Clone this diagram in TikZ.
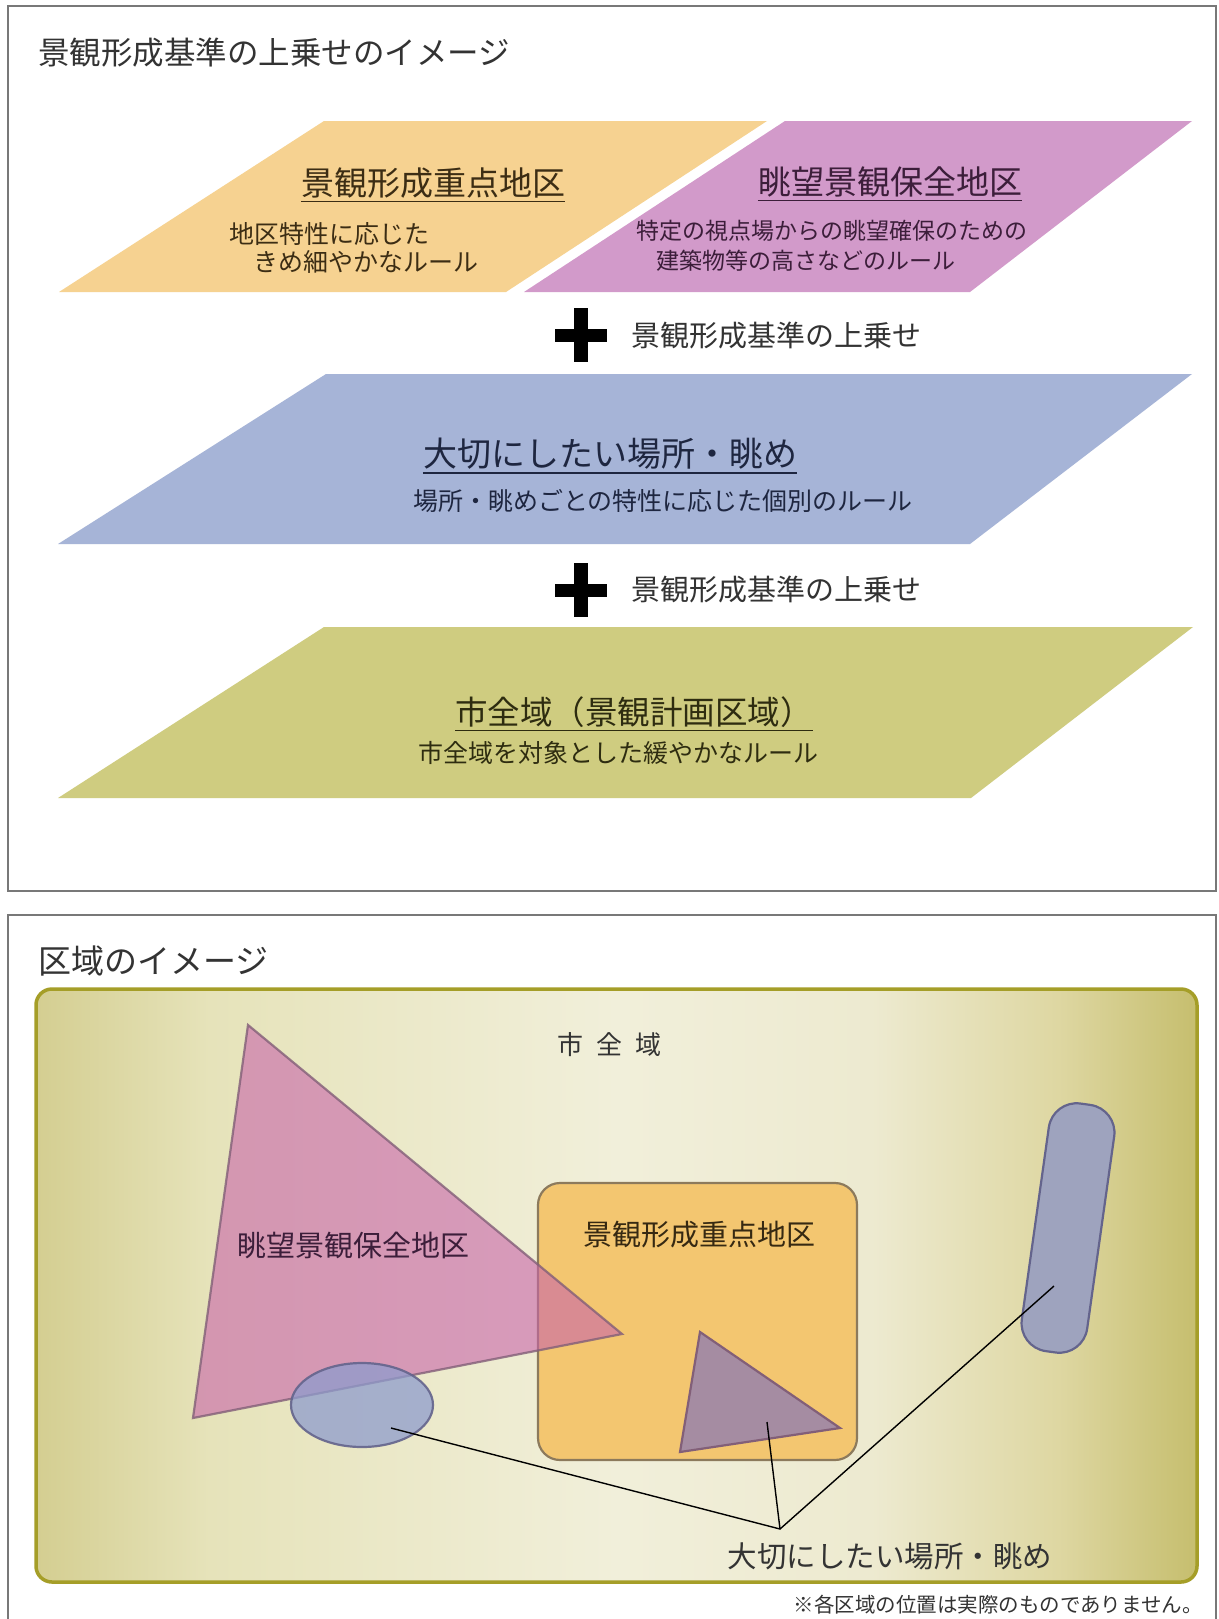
\documentclass[tikz,border=0pt]{standalone}
\usepackage{fontspec}
\setmainfont{Noto Sans CJK JP}
\newcommand\jfs[1]{\fontsize{#1pt}{#1pt}\selectfont}
\definecolor{framegray}{RGB}{120,120,120}
\definecolor{porange}{RGB}{246,210,145}
\definecolor{ppink}{RGB}{210,154,202}
\definecolor{pblue}{RGB}{166,180,215}
\definecolor{polive}{RGB}{207,204,128}
\definecolor{torange}{RGB}{60,45,20}
\definecolor{tpink}{RGB}{60,30,58}
\definecolor{tblue}{RGB}{30,38,64}
\definecolor{tolive}{RGB}{46,44,16}
\definecolor{tgray}{RGB}{51,51,51}
\definecolor{bgA}{RGB}{212,206,145}
\definecolor{bgB}{RGB}{230,227,186}
\definecolor{bgC}{RGB}{241,239,218}
\definecolor{bgD}{RGB}{237,234,208}
\definecolor{bgF}{RGB}{222,215,162}
\definecolor{bgE}{RGB}{198,190,110}
\definecolor{bgborder}{RGB}{165,158,40}
\definecolor{zorange}{RGB}{243,198,112}
\definecolor{zoborder}{RGB}{140,122,92}
\definecolor{zpink}{RGB}{200,100,170}
\definecolor{zpborder}{RGB}{130,95,120}
\definecolor{zmauve}{RGB}{165,140,162}
\definecolor{zblue}{RGB}{142,156,205}
\definecolor{zbborder}{RGB}{100,100,140}
\definecolor{zcaps}{RGB}{158,163,190}
\pgfdeclarehorizontalshading{bgshade}{100bp}{color(0bp)=(bgA); color(25bp)=(bgA); color(32.5bp)=(bgB); color(50bp)=(bgC); color(61bp)=(bgD); color(69bp)=(bgF); color(75bp)=(bgE); color(100bp)=(bgE)}
\begin{document}
\begin{tikzpicture}[x=1pt,y=-1pt,
  frame/.style={draw=framegray, line width=2pt},
  txt/.style={inner sep=0pt, anchor=center},
  uline/.style={line width=1.6pt},
  lead/.style={draw=black, line width=1.4pt},
  zoneline/.style={line width=2.2pt}]
\useasboundingbox (0,0) rectangle (1218,1619);
\fill[white] (0,0) rectangle (1218,1619);
% ---------- top panel ----------
\draw[frame] (8,6) rectangle (1216,891);
\node[txt, anchor=west, text=tgray, font=\jfs{31.5}] (title1) at (38,53) {景観形成基準の上乗せのイメージ};
% layers
\fill[porange] (324,121) -- (767,121) -- (506,292) -- (59,292) -- cycle;
\fill[ppink] (785,121) -- (1192,121) -- (970,292) -- (524,292) -- cycle;
\fill[pblue] (326,374) -- (1192,374) -- (970,544) -- (58,544) -- cycle;
\fill[polive] (324,627) -- (1193,627) -- (971,798) -- (58,798) -- cycle;
% orange texts
\node[txt, text=torange, font=\jfs{33}] (hO) at (433,183) {景観形成重点地区};
\draw[uline, torange] ([yshift=-3pt]hO.south west) -- ([yshift=-3pt]hO.south east);
\node[txt, anchor=west, text=torange, font=\jfs{25}] (sO1) at (229,234) {地区特性に応じた};
\node[txt, anchor=west, text=torange, font=\jfs{25}] (sO2) at (253,262) {きめ細やかなルール};
% pink texts
\node[txt, text=tpink, font=\jfs{33}] (hP) at (890,182) {眺望景観保全地区};
\draw[uline, tpink] ([yshift=-3pt]hP.south west) -- ([yshift=-3pt]hP.south east);
\node[txt, text=tpink, font=\jfs{23}] (sP1) at (832,231) {特定の視点場からの眺望確保のための};
\node[txt, text=tpink, font=\jfs{23}] (sP2) at (806,261) {建築物等の高さなどのルール};
% plus 1
\fill[black] (555,328.5) rectangle (607,341.5);
\fill[black] (574,308) rectangle (588,362);
\node[txt, anchor=west, text=tgray, font=\jfs{29}] (plus1) at (631,336) {景観形成基準の上乗せ};
% blue texts
\node[txt, text=tblue, font=\jfs{34}] (hB) at (610,454) {大切にしたい場所・眺め};
\draw[uline, tblue] ([yshift=-3pt]hB.south west) -- ([yshift=-3pt]hB.south east);
\node[txt, text=tblue, font=\jfs{25}] (sB) at (663,501) {場所・眺めごとの特性に応じた個別のルール};
% plus 2
\fill[black] (555,583.5) rectangle (607,596.5);
\fill[black] (574,563) rectangle (588,617);
\node[txt, anchor=west, text=tgray, font=\jfs{29}] (plus2) at (631,590) {景観形成基準の上乗せ};
% olive texts
\node[txt, text=tolive, font=\jfs{32.5}] (hL) at (634,712) {市全域（景観計画区域）};
\draw[uline, tolive] ([yshift=-3pt]hL.south west) -- ([yshift=-3pt]hL.south east);
\node[txt, text=tolive, font=\jfs{25}] (sL) at (618,753) {市全域を対象とした緩やかなルール};
% ---------- bottom panel ----------
\draw[frame] (8,1619) -- (8,915) -- (1216,915) -- (1216,1619);
\node[txt, anchor=west, text=tgray, font=\jfs{33}] (title2) at (38,961) {区域のイメージ};
\shade[shading=bgshade, rounded corners=16pt] (36,989) rectangle (1197,1582);
\draw[draw=bgborder, line width=3.5pt, rounded corners=16pt] (36,989) rectangle (1197,1582);
\node[txt, text=tgray, font=\jfs{26}] (city) at (609,1045) {\spaceskip=13pt 市 全 域};
% orange zone
\draw[zoneline, draw=zoborder, fill=zorange, rounded corners=22pt] (538,1183) rectangle (857,1460);
\node[txt, text=torange!90!black, font=\jfs{29}] (zoneO) at (699,1235) {景観形成重点地区};
% pink triangle
\fill[zpink, fill opacity=0.6] (248,1025) -- (622,1334) -- (193,1418) -- cycle;
\draw[zoneline, draw=zpborder, draw opacity=0.8] (248,1025) -- (622,1334) -- (193,1418) -- cycle;
\node[txt, text=tpink, font=\jfs{29}] (zoneP) at (353,1245) {眺望景観保全地区};
% small triangle
\draw[zoneline, draw=zpborder, fill=zmauve] (700,1332) -- (840,1428) -- (680,1452) -- cycle;
% ellipse
\fill[zblue, fill opacity=0.75] (362,1405) ellipse [x radius=71pt, y radius=42pt];
\draw[zoneline, draw=zbborder, draw opacity=0.9] (362,1405) ellipse [x radius=71pt, y radius=42pt];
% capsule
\begin{scope}[shift={(1068,1228)}, rotate=-8]
\draw[zoneline, draw=zbborder, fill=zcaps, rounded corners=28pt] (-33,-125) rectangle (33,125);
\end{scope}
% leaders
\coordinate (apex) at (780,1529);
\coordinate (pE) at (391,1428);
\coordinate (pT) at (767,1422);
\coordinate (pC) at (1054,1286);
\draw[lead] (pE) -- (apex) -- (pC);
\draw[lead] (pT) -- (apex);
\node[txt, text=tgray, font=\jfs{29.5}] (leadlbl) at (890,1556) {大切にしたい場所・眺め};
\node[txt, anchor=east, text=tgray, font=\jfs{20.5}] (note) at (1203,1605) {※各区域の位置は実際のものでありません。};
\end{tikzpicture}
\end{document}
